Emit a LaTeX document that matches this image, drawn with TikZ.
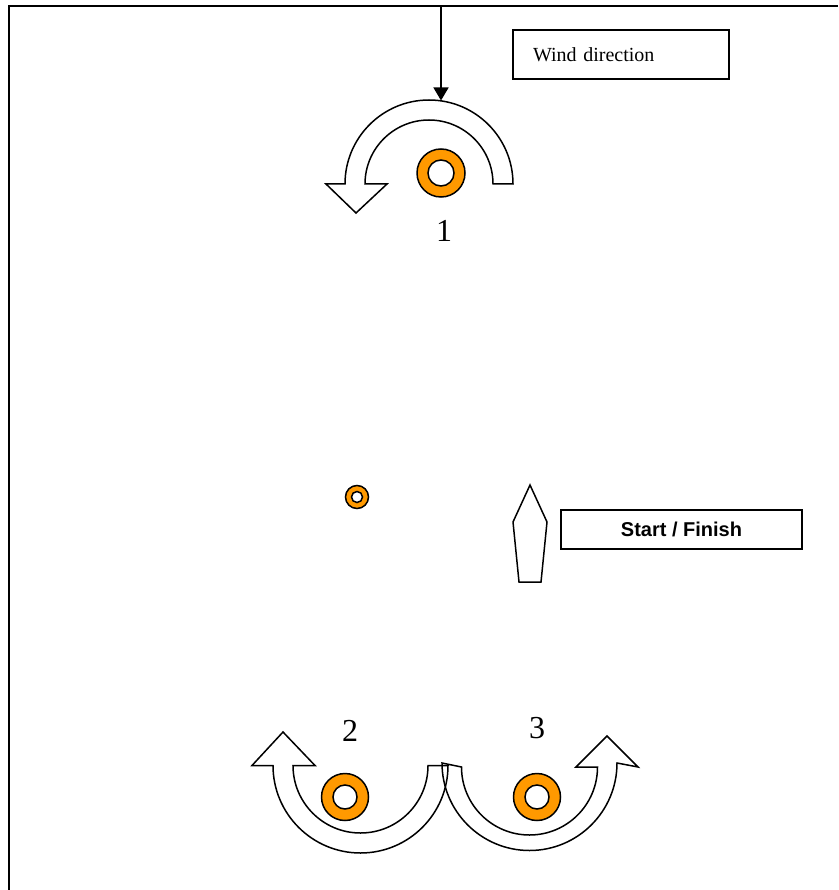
\documentclass[tikz,border=0pt]{standalone}
\usepackage{fontspec}
\setmainfont{Liberation Serif}
\newfontfamily\arialfont{Liberation Sans}
\usetikzlibrary{arrows.meta}
\definecolor{buoyorange}{HTML}{FF9900}
\tikzset{
  frameline/.style={line width=1.7pt},
  bigarrow/.style={line width=1.5pt, line join=miter},
  buoyouter/.style={circle, draw, line width=1.5pt, fill=buoyorange, inner sep=0pt},
  buoyinner/.style={circle, draw, line width=1.5pt, fill=white, inner sep=0pt},
  labelbox/.style={draw, line width=1.5pt, inner sep=0pt},
  marklabel/.style={font=\fontsize{32}{36}\selectfont, inner sep=0pt},
}
\begin{document}
\begin{tikzpicture}[x=1pt,y=1pt]
\useasboundingbox (0,0) rectangle (838,-890);
% frame
\draw[frameline] (838,-6) -- (9,-6) -- (9,-890);
% wind direction arrow
\coordinate (wtop) at (441,-6);
\coordinate (wtip) at (441,-100.5);
\draw[line width=1.5pt, -{Triangle[length=13pt,width=15pt]}] (wtop) -- (wtip);
% wind direction box
\node[labelbox, minimum width=216pt, minimum height=49pt, text width=176pt, inner xsep=20pt, align=left,
      font=\fontsize{20}{24}\selectfont] (wind) at (621,-54.5) {Wind direction};
% curved arrow 1
\draw[bigarrow] (513,-184) arc[start angle=0,end angle=180,radius=84pt]
  -- (326,-184) -- (356,-213) -- (387,-184) -- (365,-184)
  arc[start angle=180,end angle=0,radius=64pt] -- cycle;
% buoy 1
\node[buoyouter, minimum size=48pt] (b1) at (441,-173) {};
\node[buoyinner, minimum size=26pt] (b1i) at (b1) {};
\node[marklabel] (l1) at (444,-231) {1};
% small buoy
\node[buoyouter, minimum size=23pt] (b0) at (357,-497) {};
\node[buoyinner, minimum size=11pt] (b0i) at (b0) {};
% boat
\draw[line width=1.5pt, line join=miter] (530,-485) -- (547,-522) -- (541,-582) -- (519,-582) -- (513,-522) -- cycle;
% start / finish box
\node[labelbox, minimum width=241pt, minimum height=39pt, font=\arialfont\bfseries\fontsize{20}{24}\selectfont]
  (sf) at (681.5,-529.5) {Start / Finish};
% curved arrow 2
\draw[bigarrow] (448,-765.5) arc[start angle=0,end angle=-180,radius=87.5pt]
  -- (252,-765.5) -- (283,-732) -- (315,-765.5) -- (293,-765.5)
  arc[start angle=180,end angle=360,radius=67.5pt] -- cycle;
% curved arrow 3
\draw[bigarrow] (442,-763) arc[start angle=180,end angle=360,radius=87.5pt]
  -- (638,-767) -- (607,-736) -- (576,-767) -- (597.5,-767)
  arc[start angle=0,end angle=-180,radius=68pt] -- cycle;
% buoys 2 and 3
\node[buoyouter, minimum size=47pt] (b2) at (345,-797) {};
\node[buoyinner, minimum size=24pt] (b2i) at (b2) {};
\node[buoyouter, minimum size=47pt] (b3) at (537,-797) {};
\node[buoyinner, minimum size=24pt] (b3i) at (b3) {};
\node[marklabel] (l2) at (350,-731) {2};
\node[marklabel] (l3) at (537,-728) {3};
\end{tikzpicture}
\end{document}
